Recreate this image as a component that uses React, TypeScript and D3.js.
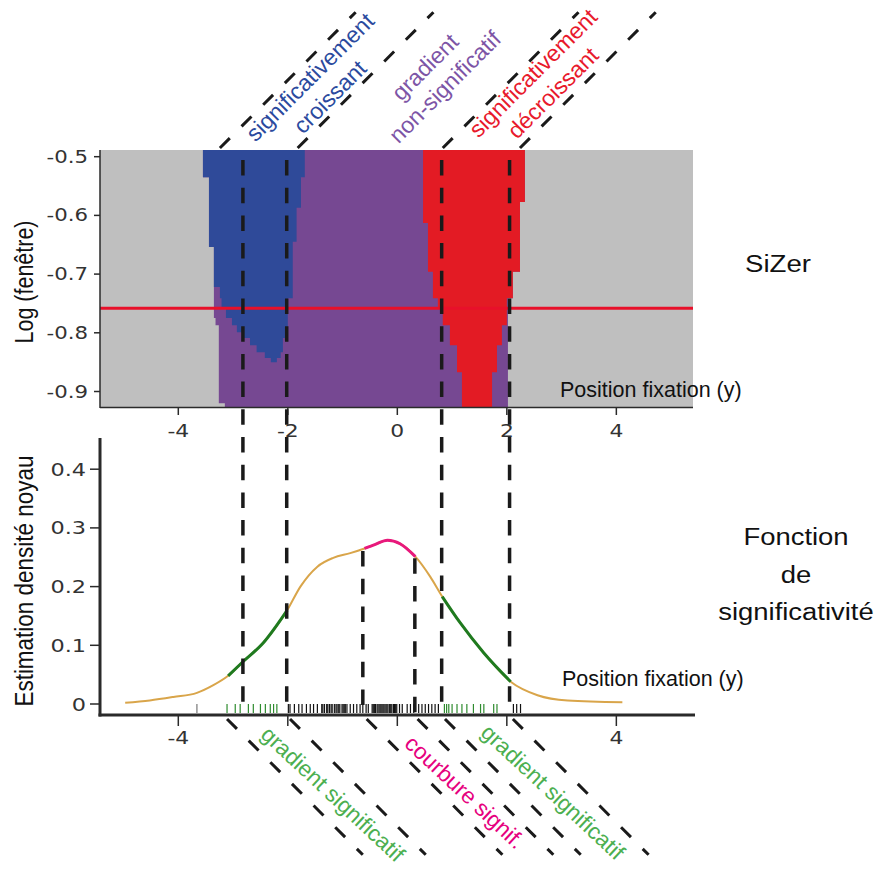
import React from 'react';
import * as d3 from 'd3';

// ---------- SiZer map (bands in log bandwidth, boundaries in position) ----------
const bandEdges = [-0.4886, -0.535, -0.577, -0.587, -0.613, -0.645, -0.654, -0.696, -0.722, -0.741, -0.758,
  -0.775, -0.787, -0.799, -0.809, -0.821, -0.833, -0.843, -0.85, -0.867, -0.92, -0.9264];
const sigLeft = [-3.55, -3.44, -3.44, -3.44, -3.44, -3.44, -3.35, -3.35, -3.35, -3.35, -3.35, -3.32, -3.26, -3.26, -3.26, -3.26, -3.26, -3.26, -3.26, -3.26, -3.15];
const sigRight = [2.33, 2.33, 2.24, 2.24, 2.24, 2.24, 2.24, 2.11, 2.11, 2.02, 2.02, 2.02, 2.02, 2.02, 2.02, 2.02, 2.02, 2.02, 2.02, 2.02, 2.02];
const blueLeft = [-3.55, -3.44, -3.44, -3.44, -3.44, -3.44, -3.35, -3.35, -3.24, -3.21, -3.13, -3.02, -2.93, -2.82, -2.69, -2.57, -2.42, -2.31];
const blueRight = [-1.69, -1.76, -1.76, -1.84, -1.84, -1.91, -1.91, -1.91, -1.91, -2.0, -2.0, -2.0, -2.0, -2.0, -2.09, -2.09, -2.13, -2.2];
const redLeft = [0.47, 0.47, 0.47, 0.47, 0.56, 0.56, 0.56, 0.65, 0.65, 0.74, 0.83, 0.83, 0.96, 0.96, 0.96, 1.09, 1.09, 1.09, 1.09, 1.18, 1.18];
const redRight = [2.33, 2.33, 2.24, 2.24, 2.24, 2.24, 2.24, 2.11, 2.11, 2.0, 2.0, 2.0, 1.91, 1.91, 1.91, 1.82, 1.82, 1.82, 1.82, 1.73, 1.73];
const bandwidthLine = -0.758;
const sizerYTicks = [-0.5, -0.6, -0.7, -0.8, -0.9];
const sizerYTickLabels = ['-0.5', '-0.6', '-0.7', '-0.8', '-0.9'];
const xTicks = [-4, -2, 0, 2, 4];
const xTickLabelsTop = ['-4', '-2', '0', '2', '4'];
const xTickLabelsBottom = ['-4', '', '', '', '4'];

// ---------- Kernel density estimate ----------
const densityX = [-4.97, -4.52, -4.09, -3.66, -3.36, -3.09, -2.82, -2.45, -2.01, -1.77, -1.46, -1.17, -0.86, -0.6, -0.4, -0.18, 0.05, 0.33, 0.6, 0.82, 1.15, 1.58, 2.07, 2.56, 3.11, 4.11];
const densityY = [0.002, 0.006, 0.012, 0.019, 0.032, 0.048, 0.072, 0.104, 0.16, 0.2, 0.234, 0.249, 0.257, 0.265, 0.272, 0.279, 0.273, 0.251, 0.217, 0.183, 0.138, 0.087, 0.038, 0.015, 0.006, 0.003];
const gradientIntervals = [[-3.09, -2.01], [0.82, 2.07]];
const curvatureIntervals = [[-0.6, 0.33]];
const densityYTicks = [0, 0.1, 0.2, 0.3, 0.4];
const densityYTickLabels = ['0', '0.1', '0.2', '0.3', '0.4'];
const rug = [-3.66, -3.11, -2.96, -2.87, -2.72, -2.63, -2.5, -2.41, -2.32, -2.26, -2.2, -1.99, -1.96, -1.88, -1.8, -1.74,
  -1.66, -1.59, -1.53, -1.46, -1.38, -1.36, -1.33, -1.29, -1.27, -1.24, -1.21, -1.19, -1.15, -1.12, -1.1, -1.07, -1.05,
  -1.01, -0.99, -0.97, -0.95, -0.92, -0.86, -0.8, -0.74, -0.68, -0.63, -0.57, -0.53, -0.46, -0.44, -0.42, -0.4, -0.37,
  -0.35, -0.32, -0.3, -0.28, -0.26, -0.24, -0.21, -0.19, -0.17, -0.14, -0.12, -0.1, -0.07, -0.05, -0.03, -0.01, 0.04,
  0.09, 0.18, 0.24, 0.3, 0.39, 0.45, 0.51, 0.57, 0.63, 0.69, 0.75, 0.86, 0.9, 0.94, 1.0, 1.09, 1.18, 1.27, 1.39, 1.52,
  1.58, 1.76, 1.82, 2.12, 2.18, 2.25];
const rugGreenIntervals = [[-3.15, -2.1], [0.84, 1.9]];

// ---------- Annotation guides ----------
const sizerGuideX = [-2.82, -2.02, 0.81, 2.05];
const curvatureGuideX = [-0.63, 0.32];
const topDiagX = [-3.24, -1.82, 0.83, 2.24];
const bottomDiagX = [-3.11, -1.96, -0.56, 0.37, 0.87, 2.11];

const topLabels = [
  { lines: ['significativement', 'croissant'], color: '#2b4a9e', cx: 310, cy: 77 },
  { lines: ['gradient', 'non-significatif'], color: '#7d55a6', cx: 425, cy: 67 },
  { lines: ['significativement', 'décroissant'], color: '#e8192c', cx: 533, cy: 73 },
];
const bottomLabels = [
  { text: 'gradient significatif', color: '#4caf50', cx: 333, cy: 794 },
  { text: 'courbure signif.', color: '#e6007e', cx: 465, cy: 792 },
  { text: 'gradient significatif', color: '#4caf50', cx: 553, cy: 792 },
];

const C_GRAY = '#bfbfbf';
const C_PURPLE = '#764892';
const C_BLUE = '#2f4a99';
const C_RED = '#e31b24';
const AX = '#2a2a2a';
const TICKFONT = '"DejaVu Sans", Verdana, sans-serif';
const FONT = '"Liberation Sans", Arial, Helvetica, sans-serif';

export default function App() {
  const xS = d3.scaleLinear().domain([-5.43, 5.4]).range([100, 693]);
  const yTop = d3.scaleLinear().domain([-0.4886, -0.9264]).range([150, 407]);
  const yBot = d3.scaleLinear().domain([0, 0.4]).range([704, 469.2]);

  const poly = d3.line<[number, number]>().x((p) => xS(p[0])).y((p) => yTop(p[1]));
  const stepPoly = (left: number[], right: number[], n: number) => {
    const pts: [number, number][] = [];
    for (let i = 0; i < n; i++) {
      pts.push([left[i], bandEdges[i]]);
      pts.push([left[i], bandEdges[i + 1]]);
    }
    for (let i = n - 1; i >= 0; i--) {
      pts.push([right[i], bandEdges[i + 1]]);
      pts.push([right[i], bandEdges[i]]);
    }
    return poly(pts) + 'Z';
  };

  const dens: [number, number][] = densityX.map((x, i) => [x, densityY[i]]);
  const curve = d3.line<[number, number]>().x((d) => xS(d[0])).y((d) => yBot(d[1])).curve(d3.curveMonotoneX);
  const seg = (a: number, b: number) => curve(dens.filter((d) => d[0] >= a - 1e-6 && d[0] <= b + 1e-6));
  const densAt = (x: number) => {
    const i = d3.bisector((d: [number, number]) => d[0]).left(dens, x);
    const a = dens[Math.max(0, i - 1)], b = dens[Math.min(dens.length - 1, i)];
    if (a[0] === b[0]) return a[1];
    return a[1] + ((x - a[0]) / (b[0] - a[0])) * (b[1] - a[1]);
  };

  const rugColor = (x: number) => {
    if (rugGreenIntervals.some(([a, b]) => x >= a && x <= b)) return '#2e8b2e';
    if (x < -3.3) return '#777';
    return '#111';
  };

  const diag = (x0: number, y0: number, dir: number, len: number) => {
    const a = Math.PI / 4;
    return { x1: x0, y1: y0, x2: x0 + len * Math.cos(a), y2: y0 + dir * len * Math.sin(a) };
  };

  return (
    <svg width={880} height={870} style={{ position: 'absolute', left: 0, top: 0, background: '#fff' }}>
      <rect x={0} y={0} width={880} height={870} fill="#fff" />

      {/* ---------- SiZer map ---------- */}
      <rect x={xS(-5.43)} y={yTop(-0.4886)} width={xS(5.4) - xS(-5.43)} height={yTop(-0.9264) - yTop(-0.4886)} fill={C_GRAY} />
      <path d={stepPoly(sigLeft, sigRight, sigLeft.length)} fill={C_PURPLE} />
      <path d={stepPoly(blueLeft, blueRight, blueLeft.length)} fill={C_BLUE} />
      <path d={stepPoly(redLeft, redRight, redLeft.length)} fill={C_RED} />
      <line x1={xS(-5.43)} x2={xS(5.4)} y1={yTop(bandwidthLine)} y2={yTop(bandwidthLine)} stroke="#e8102a" strokeWidth={3} />

      {/* SiZer axes */}
      <line x1={100} x2={100} y1={150} y2={408} stroke={AX} strokeWidth={1.5} />
      <line x1={100} x2={693} y1={407.5} y2={407.5} stroke={AX} strokeWidth={1.5} />
      {sizerYTicks.map((t, i) => (
        <g key={'syt' + i}>
          <line x1={94} x2={100} y1={yTop(t)} y2={yTop(t)} stroke={AX} strokeWidth={1.5} />
          <text transform={`translate(88,${yTop(t) + 6}) scale(1.25,1)`} textAnchor="end" fontFamily={TICKFONT} fontSize={17} fill="#333">{sizerYTickLabels[i]}</text>
        </g>
      ))}
      {xTicks.map((t, i) => (
        <g key={'sxt' + i}>
          <line x1={xS(t)} x2={xS(t)} y1={408} y2={415} stroke={AX} strokeWidth={1.5} />
          <text transform={`translate(${xS(t)},437) scale(1.25,1)`} textAnchor="middle" fontFamily={TICKFONT} fontSize={17.5} fill="#333">{xTickLabelsTop[i]}</text>
        </g>
      ))}
      <text transform="translate(33,282) rotate(-90) scale(1,1.17)" textAnchor="middle" fontFamily={FONT} fontSize={21.5} fill="#111">Log (fenêtre)</text>
      <text x={560} y={397} fontFamily={FONT} fontSize={21.5} fill="#111">Position fixation (y)</text>

      {/* ---------- Density panel ---------- */}
      <path d={curve(dens) || ''} fill="none" stroke="#d9a54a" strokeWidth={2} />
      {gradientIntervals.map(([a, b], i) => (
        <path key={'g' + i} d={seg(a, b) || ''} fill="none" stroke="#1f7a1f" strokeWidth={3} />
      ))}
      {curvatureIntervals.map(([a, b], i) => (
        <path key={'c' + i} d={seg(a, b) || ''} fill="none" stroke="#e8187c" strokeWidth={3} />
      ))}
      {rug.map((r, i) => (
        <line key={'r' + i} x1={xS(r)} x2={xS(r)} y1={yBot(0)} y2={yBot(0) + 9} stroke={rugColor(r)} strokeWidth={1.2} />
      ))}
      <line x1={100} x2={100} y1={438} y2={716.5} stroke={AX} strokeWidth={3} />
      <line x1={98.5} x2={695} y1={715} y2={715} stroke={AX} strokeWidth={3} />
      {densityYTicks.map((t, i) => (
        <g key={'dyt' + i}>
          <line x1={90} x2={100} y1={yBot(t)} y2={yBot(t)} stroke={AX} strokeWidth={1.5} />
          <text transform={`translate(86,${yBot(t) + 6.5}) scale(1.28,1)`} textAnchor="end" fontFamily={TICKFONT} fontSize={17.5} fill="#333">{densityYTickLabels[i]}</text>
        </g>
      ))}
      {xTicks.map((t, i) => (
        <g key={'dxt' + i}>
          <line x1={xS(t)} x2={xS(t)} y1={716} y2={726} stroke={AX} strokeWidth={1.5} />
          <text transform={`translate(${xS(t)},744) scale(1.25,1)`} textAnchor="middle" fontFamily={TICKFONT} fontSize={17.5} fill="#333">{xTickLabelsBottom[i]}</text>
        </g>
      ))}
      <text transform="translate(33,581) rotate(-90) scale(1,1.17)" textAnchor="middle" fontFamily={FONT} fontSize={22.5} fill="#111">Estimation densité noyau</text>
      <text x={562} y={686} fontFamily={FONT} fontSize={21.5} fill="#111">Position fixation (y)</text>

      {/* ---------- Guides ---------- */}
      {sizerGuideX.map((x, i) => (
        <line key={'vg' + i} x1={xS(x)} x2={xS(x)} y1={160} y2={714} stroke="#1a1a1a" strokeWidth={3.5} strokeDasharray="15.5 12.2" />
      ))}
      {curvatureGuideX.map((x, i) => (
        <line key={'cg' + i} x1={xS(x)} x2={xS(x)} y1={yBot(densAt(x)) + 2} y2={714} stroke="#1a1a1a" strokeWidth={3.5} strokeDasharray="15.5 12.2" />
      ))}
      {topDiagX.map((x, i) => {
        const l = diag(xS(x), 148, -1, 192);
        return <line key={'td' + i} {...l} stroke="#1a1a1a" strokeWidth={3} strokeDasharray="14 16.6" />;
      })}
      {bottomDiagX.map((x, i) => {
        const l = diag(xS(x), 719, 1, 192);
        return <line key={'bd' + i} {...l} stroke="#1a1a1a" strokeWidth={3} strokeDasharray="14 16.6" />;
      })}

      {/* ---------- Annotations ---------- */}
      {topLabels.map((lab, i) => (
        <g key={'tl' + i} transform={`translate(${lab.cx},${lab.cy}) rotate(-45)`}>
          {lab.lines.map((s, j) => (
            <text key={j} x={0} y={j * 28} dy="0.35em" textAnchor="middle" fontFamily={FONT} fontSize={23} fill={lab.color}>{s}</text>
          ))}
        </g>
      ))}
      {bottomLabels.map((lab, i) => (
        <text key={'bl' + i} transform={`translate(${lab.cx},${lab.cy}) rotate(43)`} dy="0.35em" textAnchor="middle" fontFamily={FONT} fontSize={22.5} fill={lab.color}>{lab.text}</text>
      ))}

      <text transform="translate(778,272) scale(1.15,1)" textAnchor="middle" fontFamily={FONT} fontSize={24} fill="#111">SiZer</text>
      {['Fonction', 'de', 'significativité'].map((s, i) => (
        <text key={'fs' + i} transform={`translate(796,${545 + i * 37.5}) scale(1.12,1)`} textAnchor="middle" fontFamily={FONT} fontSize={24.5} fill="#111">{s}</text>
      ))}
    </svg>
  );
}
